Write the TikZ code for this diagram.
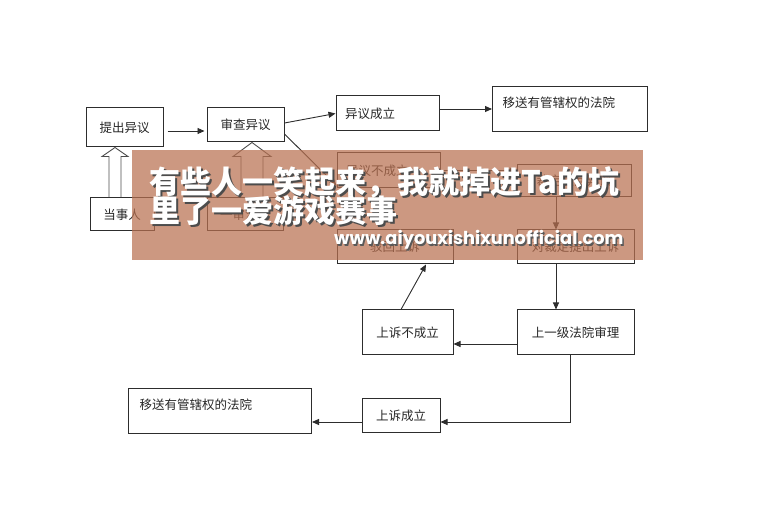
\documentclass[tikz,border=0pt]{standalone}
\usepackage{fontspec}
\setmainfont{Noto Sans CJK SC}
\newfontfamily\urlfont{Poppins}
\usetikzlibrary{arrows.meta, positioning, calc}
\definecolor{trait}{RGB}{45,45,45}
\definecolor{bandeau}{RGB}{184,112,80}
\tikzset{
  boite/.style={draw=trait, line width=1pt, inner sep=0pt, text=black!85, font=\fontsize{12.5}{14}\selectfont},
  boitegauche/.style={boite, inner xsep=9pt, text width=85pt, align=left, minimum height=35pt},
  boitehaute/.style={boite, anchor=north west, align=left, text height=21.5pt, text depth=23.5pt},
  fleche/.style={draw=trait, line width=0.9pt, -{Triangle[length=7pt,width=6pt]}},
  creuse/.style={draw=trait!85, line width=0.9pt},
  titre/.style={anchor=base west, inner sep=0pt, font=\fontsize{31}{31}\bfseries},
  adresse/.style={anchor=base west, inner sep=0pt, font=\urlfont\fontsize{17.8}{17.8}\bfseries},
}
% fleche creuse : base, pointe, demi-tige, demi-tete, longueur tete
\newcommand{\flechecreuse}[5]{%
  \draw[creuse] let \p1=(#1), \p2=(#2) in
    (\x1-#3,\y1) -- (\x1-#3,\y2-#5) -- (\x1-#4,\y2-#5) -- (\x1,\y2)
    -- (\x1+#4,\y2-#5) -- (\x1+#3,\y2-#5) -- (\x1+#3,\y1);
}
\begin{document}
\begin{tikzpicture}[x=1pt,y=-1pt]
\useasboundingbox (0,0) rectangle (774,518);
% Premiere instance
\node[boite, minimum width=77pt, minimum height=39pt] (tcyy) at (124.5,127.5) {提出异议};
\node[boite, minimum width=77pt, minimum height=34pt] (scyy) at (245.5,125) {审查异议};
\node[boite, minimum width=64pt, minimum height=33pt] (dsr) at (122,214.5) {当事人};
\node[boite, minimum width=76pt, minimum height=33pt] (ysfy) at (245,214.5) {一审法院};
\node[boitegauche] (yycl) at (387.5,113.5) {异议成立};
\node[boitegauche] (yybcl) at (388.5,170.5) {异议不成立};
\node[boitehaute, inner xsep=10pt, text width=135pt] (ysgx) at (492,86) {移送有管辖权的法院};
\node[boite, minimum width=114pt, minimum height=32pt] (cdbh) at (574,181) {裁定驳回异议};
% Appel
\node[boite, minimum width=116pt, minimum height=34pt] (bhss) at (395,247) {驳回上诉};
\node[boite, minimum width=117pt, minimum height=34pt] (dcdss) at (575.5,247) {对裁定提出上诉};
\node[boite, minimum width=91pt, minimum height=45pt] (ssbcl) at (407.5,332.5) {上诉不成立};
\node[boite, minimum width=117pt, minimum height=45pt] (sjfy) at (575.5,332.5) {上一级法院审理};
\node[boite, minimum width=78pt, minimum height=34pt] (sscl) at (401,416) {上诉成立};
\node[boitehaute, inner xsep=11pt, text width=161pt] (ysgx2) at (128,388) {移送有管辖权的法院};
\coordinate (c1) at (115,0);
\coordinate (c2) at (252,0);
\coordinate (c3) at (556,0);
\flechecreuse{c1 |- dsr.north}{c1 |- tcyy.south}{6pt}{13pt}{9pt}
\flechecreuse{c2 |- ysfy.north}{c2 |- scyy.south}{11pt}{19pt}{14pt}
\draw[fleche, shorten <=4pt, shorten >=2pt] ([yshift=-3.5pt]tcyy.east) -- ([yshift=-3.5pt]tcyy.east -| scyy.west);
\draw[fleche] ([yshift=2pt]scyy.east) -- (yycl.west);
\draw[fleche] ([yshift=-9pt]scyy.east) -- ([yshift=3pt]yybcl.south west);
\draw[fleche] (yycl.east |- ysgx.west) -- (ysgx.west);
\draw[fleche] (yybcl.east) -- (yybcl.east -| cdbh.west);
\draw[fleche] (c3 |- cdbh.south) -- (c3 |- dcdss.north);
\draw[fleche] (c3 |- dcdss.south) -- (c3 |- sjfy.north);
\draw[fleche] ([yshift=-11.5pt]sjfy.west) -- ([yshift=-11.5pt]sjfy.west -| ssbcl.east);
\draw[fleche] ([xshift=-6.5pt]ssbcl.north) -- ([xshift=31pt]bhss.south);
\draw[fleche] ([xshift=-5.5pt]sjfy.south) |- ([yshift=-6pt]sscl.east);
\draw[fleche] ([yshift=-6pt]sscl.west) -- ([yshift=-6pt]sscl.west -| ysgx2.east);
% Bandeau
\fill[bandeau, fill opacity=0.72] (132,150) rectangle (643,260);
\node[titre, text=black!70] (ligne1o) at (151,196) {有些人一笑起来，我就掉进Ta的坑};
\node[titre, text=white] (ligne1) at (149,194) {有些人一笑起来，我就掉进Ta的坑};
\node[titre, text=black!70] (ligne2o) at (151,225) {里了一爱游戏赛事};
\node[titre, text=white] (ligne2) at (149,223) {里了一爱游戏赛事};
\node[adresse, text=black!65] (urlo) at (335.5,246.5) {www.aiyouxishixunofficial.com};
\node[adresse, text=white] (url) at (334,245) {www.aiyouxishixunofficial.com};
\end{tikzpicture}
\end{document}
